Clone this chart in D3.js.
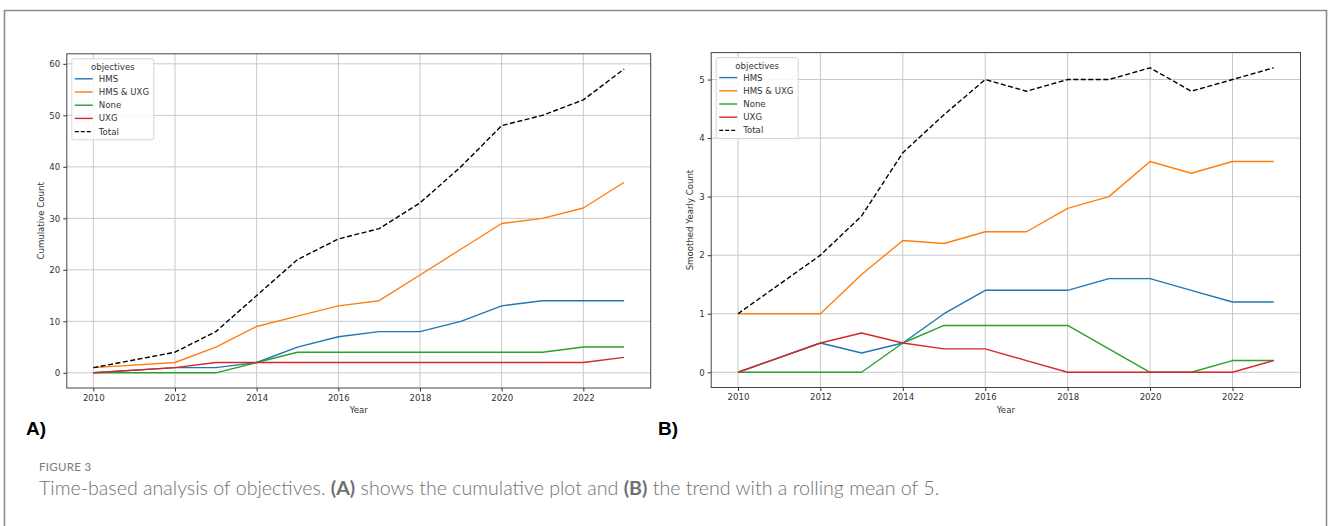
<!DOCTYPE html>
<html><head><meta charset="utf-8">
<script src="https://cdn.jsdelivr.net/npm/d3@7"></script>
<style>
body{margin:0;background:#fff;}
svg{display:block;}
</style></head><body>
<svg id="fig" width="1328" height="526"></svg>
<script>
// Years with publications (2011 has none)
const years = [2010, 2012, 2013, 2014, 2015, 2016, 2017, 2018, 2019, 2020, 2021, 2022, 2023];
const seriesNames = ["HMS", "HMS & UXG", "None", "UXG", "Total"];
const seriesColors = ["#1f77b4", "#ff7f0e", "#2ca02c", "#d62728", "#000000"];

// (A) cumulative counts
const cumHMS     = [0, 1, 1, 2, 5, 7, 8, 8, 10, 13, 14, 14, 14];
const cumHMSUXG  = [1, 2, 5, 9, 11, 13, 14, 19, 24, 29, 30, 32, 37];
const cumNone    = [0, 0, 0, 2, 4, 4, 4, 4, 4, 4, 4, 5, 5];
const cumUXG     = [0, 1, 2, 2, 2, 2, 2, 2, 2, 2, 2, 2, 3];
const cumTotal   = [1, 4, 8, 15, 22, 26, 28, 33, 40, 48, 50, 53, 59];

// (B) rolling mean (window 5) of yearly counts
const smHMS      = [0, 0.5, 0.33, 0.5, 1.0, 1.4, 1.4, 1.4, 1.6, 1.6, 1.4, 1.2, 1.2];
const smHMSUXG   = [1, 1, 1.67, 2.25, 2.2, 2.4, 2.4, 2.8, 3.0, 3.6, 3.4, 3.6, 3.6];
const smNone     = [0, 0, 0, 0.5, 0.8, 0.8, 0.8, 0.8, 0.4, 0, 0, 0.2, 0.2];
const smUXG      = [0, 0.5, 0.67, 0.5, 0.4, 0.4, 0.2, 0, 0, 0, 0, 0, 0.2];
const smTotal    = [1, 2, 2.67, 3.75, 4.4, 5, 4.8, 5, 5, 5.2, 4.8, 5, 5.2];

const xTicks  = [2010, 2012, 2014, 2016, 2018, 2020, 2022];
const yTicksA = [0, 10, 20, 30, 40, 50, 60];
const yTicksB = [0, 1, 2, 3, 4, 5];

const svg = d3.select("#fig");
const FONT = "DejaVu Sans, sans-serif";

// outer figure frame
svg.append("path")
  .attr("d", "M4.5,526V10.5H1326.5V526")
  .attr("fill", "none").attr("stroke", "#8c8c8c").attr("stroke-width", 1.6);

// padded domain like matplotlib's default 5% margins
function padded(lo, hi) { const m = (hi - lo) * 0.05; return [lo - m, hi + m]; }

function panel(opt) {
  const x = d3.scaleLinear().domain(padded(d3.min(years), d3.max(years))).range([opt.left, opt.right]);
  const allVals = opt.series.flat();
  const y = d3.scaleLinear().domain(padded(0, d3.max(allVals))).range([opt.bottom, opt.top]);
  const g = svg.append("g");

  // grid
  g.append("g").selectAll("line").data(xTicks).join("line")
    .attr("x1", d => x(d)).attr("x2", d => x(d))
    .attr("y1", opt.top).attr("y2", opt.bottom)
    .attr("stroke", "#c8c8c8").attr("stroke-width", 1);
  g.append("g").selectAll("line").data(opt.yTicks).join("line")
    .attr("y1", d => y(d)).attr("y2", d => y(d))
    .attr("x1", opt.left).attr("x2", opt.right)
    .attr("stroke", "#c8c8c8").attr("stroke-width", 1);

  // series lines
  const line = d3.line().x((d, i) => x(years[i])).y(d => y(d));
  opt.series.forEach((vals, k) => {
    g.append("path").datum(vals)
      .attr("d", line)
      .attr("fill", "none")
      .attr("stroke", seriesColors[k])
      .attr("stroke-width", 1.4)
      .attr("stroke-dasharray", k === 4 ? "5,2.5" : null)
      .attr("stroke-linejoin", "round");
  });

  // axes
  const xAxis = g.append("g").attr("transform", `translate(0,${opt.bottom})`)
    .call(d3.axisBottom(x).tickValues(xTicks).tickFormat(d3.format("d")).tickSize(3.5).tickPadding(3));
  const yAxis = g.append("g").attr("transform", `translate(${opt.left},0)`)
    .call(d3.axisLeft(y).tickValues(opt.yTicks).tickFormat(d3.format("d")).tickSize(3.5).tickPadding(3));
  [xAxis, yAxis].forEach(a => {
    a.select(".domain").remove();
    a.selectAll(".tick line").attr("stroke", "#333");
    a.selectAll(".tick text").attr("fill", "#333").style("font-family", FONT).style("font-size", "8.6px");
  });

  // spines
  g.append("rect").attr("x", opt.left).attr("y", opt.top)
    .attr("width", opt.right - opt.left).attr("height", opt.bottom - opt.top)
    .attr("fill", "none").attr("stroke", "#444").attr("stroke-width", 1);

  // axis titles
  g.append("text").attr("x", (opt.left + opt.right) / 2).attr("y", opt.bottom + 25)
    .attr("text-anchor", "middle").attr("fill", "#333")
    .style("font-family", FONT).style("font-size", "8.6px").text("Year");
  g.append("text")
    .attr("transform", `translate(${opt.yLabelX},${(opt.top + opt.bottom) / 2}) rotate(-90)`)
    .attr("text-anchor", "middle").attr("dy", "0.35em").attr("fill", "#333")
    .style("font-family", FONT).style("font-size", "8.6px").text(opt.yLabel);

  // legend
  const lg = g.append("g").attr("transform", `translate(${opt.left + 5},${opt.top + 5})`);
  lg.append("rect").attr("width", 82).attr("height", 81).attr("rx", 2)
    .attr("fill", "#fff").attr("fill-opacity", 0.85).attr("stroke", "#d6d6d6").attr("stroke-width", 1);
  lg.append("text").attr("x", 41).attr("y", 8).attr("dy", "0.35em").attr("text-anchor", "middle")
    .attr("fill", "#333").style("font-family", FONT).style("font-size", "8.6px").text("objectives");
  seriesNames.forEach((name, k) => {
    const yy = 20 + k * 13.2;
    lg.append("line").attr("x1", 3).attr("x2", 21).attr("y1", yy).attr("y2", yy)
      .attr("stroke", seriesColors[k]).attr("stroke-width", 1.4)
      .attr("stroke-dasharray", k === 4 ? "4,2" : null);
    lg.append("text").attr("x", 27).attr("y", yy).attr("dy", "0.35em")
      .attr("fill", "#333").style("font-family", FONT).style("font-size", "8.6px").text(name);
  });

  // panel tag
  svg.append("text").attr("x", opt.tagX).attr("y", 435)
    .style("font-family", "Liberation Sans, Arial, sans-serif").style("font-size", "19px")
    .style("font-weight", "bold").attr("fill", "#000").text(opt.tag);
}

panel({
  left: 66.8, right: 650.7, top: 53.8, bottom: 388,
  series: [cumHMS, cumHMSUXG, cumNone, cumUXG, cumTotal],
  yTicks: yTicksA, yLabel: "Cumulative Count", yLabelX: 40.5,
  tag: "A)", tagX: 26
});
panel({
  left: 711.2, right: 1300.5, top: 52.6, bottom: 387.5,
  series: [smHMS, smHMSUXG, smNone, smUXG, smTotal],
  yTicks: yTicksB, yLabel: "Smoothed Yearly Count", yLabelX: 690,
  tag: "B)", tagX: 658
});

// caption
const CAP = "Lato, 'Open Sans', sans-serif";
svg.append("text").attr("x", 39).attr("y", 471)
  .style("font-family", CAP).style("font-size", "11.5px").style("letter-spacing", "0.3px")
  .attr("fill", "#7a7a7a").text("FIGURE 3");
const cap = svg.append("text").attr("x", 39).attr("y", 494.5)
  .style("font-family", CAP).style("font-size", "15px").style("font-weight", 300).attr("fill", "#707070");
const parts = [
  ["Time-based analysis of objectives. ", false], ["(A)", true],
  [" shows the cumulative plot and ", false], ["(B)", true],
  [" the trend with a rolling mean of 5.", false]
];
parts.forEach(([t, b]) => cap.append("tspan").style("font-weight", b ? "bold" : null).text(t));
// fit caption to its line width
const w = cap.node().getComputedTextLength();
cap.style("font-size", (15 * 901 / w).toFixed(2) + "px");
</script>
</body></html>
